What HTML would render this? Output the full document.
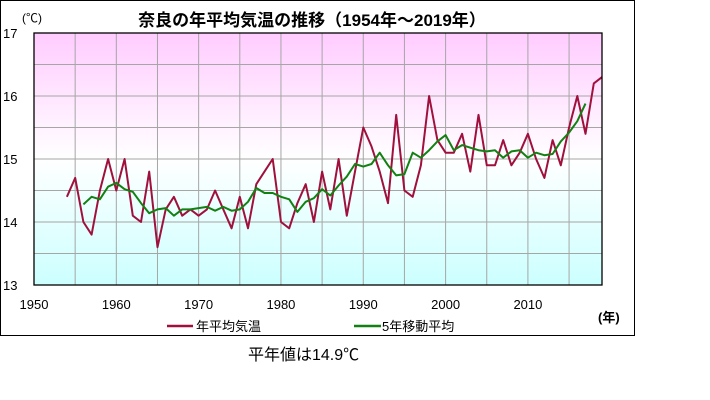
<!DOCTYPE html>
<html><head><meta charset="utf-8"><style>
body{margin:0;background:#fff;width:710px;height:400px;overflow:hidden}
svg{display:block}
</style></head><body>
<svg id="s" width="710" height="400" xmlns="http://www.w3.org/2000/svg" font-family="Liberation Sans, Noto Sans CJK JP, sans-serif">
<defs>
<linearGradient id="g" x1="0" y1="0" x2="0" y2="1">
<stop offset="0" stop-color="#ffccff"/>
<stop offset="0.5" stop-color="#ffffff"/>
<stop offset="1" stop-color="#ccffff"/>
</linearGradient>
</defs>
<rect x="0.5" y="0.5" width="634" height="335" fill="#fff" stroke="#000" stroke-width="1"/>
<rect x="34" y="33" width="568" height="252" fill="url(#g)"/>
<g id="grid" stroke="#a6a6a6" stroke-width="1"></g>
<g id="ser"></g>
<rect x="34" y="33" width="568" height="252" fill="none" stroke="#000" stroke-width="1.3"/>
<g font-size="13" fill="#000" id="ylab"></g>
<g font-size="13" fill="#000" id="xlab"></g>
<text x="22" y="22" font-size="12">(℃)</text>
<text x="312" y="26" font-size="17" font-weight="bold" text-anchor="middle">奈良の年平均気温の推移（1954年～2019年）</text>
<text x="598" y="322" font-size="13" font-weight="bold">(年)</text>
<line x1="167" y1="326" x2="193" y2="326" stroke="#a0103c" stroke-width="2.5"/>
<text x="196" y="331" font-size="13">年平均気温</text>
<line x1="354" y1="326" x2="381" y2="326" stroke="#128012" stroke-width="2.5"/>
<text x="382" y="331" font-size="13">5年移動平均</text>
<text x="248" y="360" font-size="16">平年値は14.9℃</text>
</svg>
<script>
var d=[14.4,14.7,14.0,13.8,14.5,15.0,14.5,15.0,14.1,14.0,14.8,13.6,14.2,14.4,14.1,14.2,14.1,14.2,14.5,14.2,13.9,14.4,13.9,14.6,14.8,15.0,14.0,13.9,14.3,14.6,14.0,14.8,14.2,15.0,14.1,14.8,15.5,15.2,14.8,14.3,15.7,14.5,14.4,14.9,16.0,15.3,15.1,15.1,15.4,14.8,15.7,14.9,14.9,15.3,14.9,15.1,15.4,15.0,14.7,15.3,14.9,15.5,16.0,15.4,16.2,16.3];
function X(y){return 34+(y-1950)*568/69}
function Y(v){return 285-(v-13)*63}
var ns="http://www.w3.org/2000/svg";
function el(p,t,a,txt){var e=document.createElementNS(ns,t);for(var k in a)e.setAttribute(k,a[k]);if(txt)e.textContent=txt;document.getElementById(p).appendChild(e);return e}
for(var y=1955;y<2019;y+=5){el("grid","line",{x1:X(y),x2:X(y),y1:33,y2:285})}
for(var v=13.5;v<17;v+=0.5){el("grid","line",{x1:34,x2:602,y1:Y(v),y2:Y(v)})}
for(var v=13;v<=17;v++){el("ylab","text",{x:3,y:Y(v)+5},String(v))}
for(var y=1950;y<=2010;y+=10){el("xlab","text",{x:X(y),y:309,"text-anchor":"middle"},String(y))}
var p=d.map(function(v,i){return X(1954+i).toFixed(1)+","+Y(v).toFixed(1)}).join(" ");
el("ser","polyline",{points:p,fill:"none",stroke:"#a0103c","stroke-width":2,"stroke-linejoin":"round"});
var q=[];for(var i=2;i<d.length-2;i++){var s=0;for(var j=-2;j<=2;j++)s+=d[i+j];q.push(X(1954+i).toFixed(1)+","+Y(s/5).toFixed(1))}
el("ser","polyline",{points:q.join(" "),fill:"none",stroke:"#128012","stroke-width":2,"stroke-linejoin":"round"});
</script>
</body></html>
